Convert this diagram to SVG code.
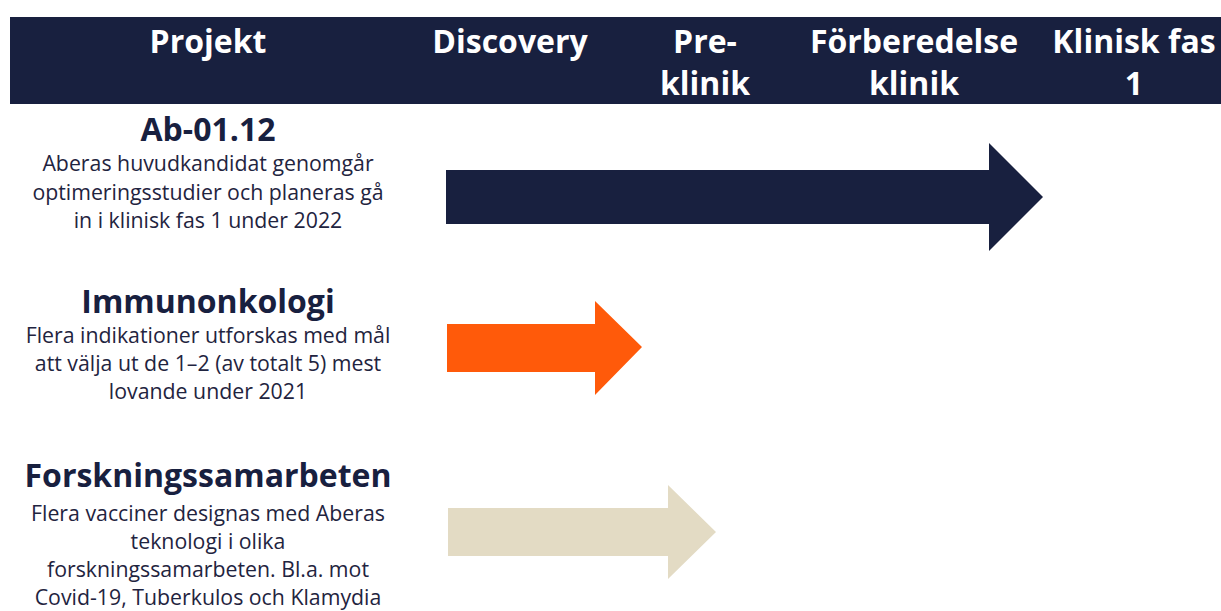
<svg xmlns="http://www.w3.org/2000/svg" width="1221" height="611" viewBox="0 0 1221 611">
<style>
.hdr{font-family:"Open Sans","Liberation Sans",sans-serif;font-weight:700;font-size:32px;fill:#ffffff;text-anchor:middle}
.ttl{font-family:"Open Sans","Liberation Sans",sans-serif;font-weight:700;font-size:32px;fill:#18203f;text-anchor:middle}
.body{font-family:"Open Sans","Liberation Sans",sans-serif;font-size:21.3px;fill:#1f2440;text-anchor:middle}
</style>
<rect width="1221" height="611" fill="#ffffff"/>
<g id="header">
<rect x="10" y="17" width="1211" height="87" fill="#18203f"/>
<text class="hdr" x="208" y="53">Projekt</text>
<text class="hdr" x="510" y="53">Discovery</text>
<text class="hdr" x="705" y="53">Pre-</text>
<text class="hdr" x="705" y="95">klinik</text>
<text class="hdr" x="914" y="53">Förberedelse</text>
<text class="hdr" x="914" y="95">klinik</text>
<text class="hdr" x="1134" y="53">Klinisk fas</text>
<text class="hdr" x="1134" y="95">1</text>
</g>
<g id="project-ab">
<text class="ttl" x="208" y="141">Ab-01.12</text>
<text class="body" x="208" y="171">Aberas huvudkandidat genomgår</text>
<text class="body" x="208" y="200">optimeringsstudier och planeras gå</text>
<text class="body" x="208" y="228">in i klinisk fas 1 under 2022</text>
</g>
<g id="project-immuno">
<text class="ttl" x="208" y="313">Immunonkologi</text>
<text class="body" x="208" y="343">Flera indikationer utforskas med mål</text>
<text class="body" x="208" y="371">att välja ut de 1–2 (av totalt 5) mest</text>
<text class="body" x="208" y="399">lovande under 2021</text>
</g>
<g id="project-forsk">
<text class="ttl" x="208" y="487">Forskningssamarbeten</text>
<text class="body" x="208" y="521">Flera vacciner designas med Aberas</text>
<text class="body" x="208" y="549">teknologi i olika</text>
<text class="body" x="208" y="577">forskningssamarbeten. Bl.a. mot</text>
<text class="body" x="208" y="605">Covid-19, Tuberkulos och Klamydia</text>
</g>
<g id="connectors">
<polygon fill="#18203f" points="446,170 989,170 989,143 1043,197 989,251 989,224 446,224"/>
<polygon fill="#ff5a0a" points="447,324 595,324 595,301 642,347 595,395 595,372 447,372"/>
<polygon fill="#e3dbc4" points="448,508 668,508 668,485 716,532 668,579 668,556 448,556"/>
</g>
</svg>
